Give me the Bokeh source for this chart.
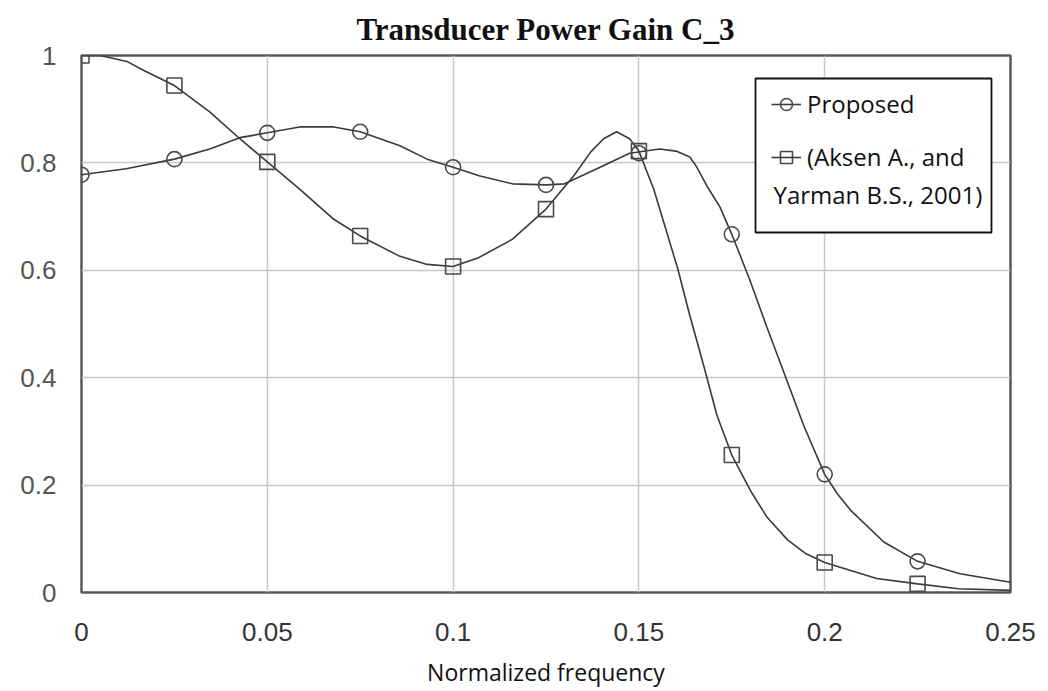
from bokeh.plotting import figure
from bokeh.models import Range1d, FixedTicker, Legend, LegendItem, Label, BoxAnnotation
from bokeh.embed import file_html
from bokeh.resources import INLINE

# ---------------- data ----------------
title_text = "Transducer Power Gain C_3"
x_label = "Normalized frequency"

x_ticks = [0, 0.05, 0.1, 0.15, 0.2, 0.25]
x_tick_labels = ["0", "0.05", "0.1", "0.15", "0.2", "0.25"]
y_ticks = [0, 0.2, 0.4, 0.6, 0.8, 1.0]
y_tick_labels = ["0", "0.2", "0.4", "0.6", "0.8", "1"]

series_names = ["Proposed", "(Aksen A., and", "Yarman B.S., 2001)"]

# "Proposed" curve
prop_x = [0.0, 0.012, 0.025, 0.0345, 0.0426, 0.05, 0.0587, 0.0679, 0.075, 0.0857,
          0.093, 0.1, 0.107, 0.116, 0.125, 0.130, 0.1387, 0.1475, 0.1556, 0.160,
          0.1637, 0.1655, 0.1683, 0.1718, 0.175, 0.1798, 0.1844, 0.189, 0.1944, 0.2,
          0.2035, 0.207, 0.2159, 0.225, 0.2364, 0.25]
prop_y = [0.778, 0.789, 0.807, 0.826, 0.847, 0.856, 0.867, 0.867, 0.858, 0.832,
          0.807, 0.792, 0.776, 0.761, 0.759, 0.761, 0.789, 0.818, 0.826, 0.822,
          0.811, 0.793, 0.757, 0.718, 0.667, 0.583, 0.495, 0.41, 0.31, 0.22,
          0.183, 0.153, 0.094, 0.058, 0.035, 0.019]

# "(Aksen A., and Yarman B.S., 2001)" curve
aksen_x = [0.0, 0.005, 0.0122, 0.0168, 0.025, 0.0345, 0.0426, 0.05, 0.0587, 0.0679,
           0.075, 0.0857, 0.093, 0.1, 0.107, 0.116, 0.125, 0.1325, 0.137, 0.1405,
           0.144, 0.1475, 0.150, 0.154, 0.1605, 0.1635, 0.1675, 0.171, 0.175, 0.18,
           0.1845, 0.19, 0.195, 0.2, 0.214, 0.225, 0.236, 0.25]
aksen_y = [1.0, 1.0, 0.989, 0.972, 0.944, 0.895, 0.845, 0.802, 0.751, 0.695,
           0.664, 0.626, 0.611, 0.607, 0.624, 0.658, 0.714, 0.776, 0.82, 0.845,
           0.858, 0.845, 0.822, 0.751, 0.602, 0.521, 0.421, 0.33, 0.256, 0.19,
           0.14, 0.098, 0.072, 0.056, 0.026, 0.016, 0.007, 0.004]

# marker positions
marker_x = [0.0, 0.025, 0.05, 0.075, 0.1, 0.125, 0.15, 0.175, 0.2, 0.225]
prop_markers = [0.778, 0.807, 0.856, 0.858, 0.792, 0.759, 0.818, 0.667, 0.22, 0.058]
aksen_markers = [1.0, 0.944, 0.802, 0.664, 0.607, 0.714, 0.822, 0.256, 0.056, 0.016]

# ---------------- figure ----------------
p = figure(width=1040, height=691,
           x_range=Range1d(0, 0.25), y_range=Range1d(0, 1.0),
           output_backend="svg", toolbar_location=None,
           min_border_left=81, min_border_right=30,
           min_border_top=55, min_border_bottom=99)
p.background_fill_color = "white"
p.border_fill_color = "white"
p.outline_line_color = "#5a5a5a"
p.outline_line_width = 2.5

p.title.text = title_text
p.title.align = "center"
p.title.text_font = "Liberation Serif"
p.title.text_font_style = "bold"
p.title.text_font_size = "31px"
p.title.text_color = "#111111"
p.title.standoff = 17

# axes
p.xaxis.ticker = FixedTicker(ticks=x_ticks)
p.xaxis.major_label_overrides = dict(zip(x_ticks, x_tick_labels))
p.yaxis.ticker = FixedTicker(ticks=y_ticks)
p.yaxis.major_label_overrides = dict(zip(y_ticks, y_tick_labels))
for ax in (p.xaxis, p.yaxis):
    ax.axis_line_color = None
    ax.major_tick_line_color = None
    ax.minor_tick_line_color = None

p.xaxis.major_label_text_font = "Liberation Sans"
p.xaxis.major_label_text_font_size = "26px"
p.xaxis.major_label_text_color = "#333333"
p.xaxis.major_label_standoff = 24
p.xaxis.axis_label = x_label
p.xaxis.axis_label_text_font = "Open Sans"
p.xaxis.axis_label_text_font_style = "normal"
p.xaxis.axis_label_text_font_size = "23px"
p.xaxis.axis_label_text_color = "#111111"
p.xaxis.axis_label_standoff = 12

p.yaxis.major_label_text_font = "Liberation Sans"
p.yaxis.major_label_text_font_size = "26px"
p.yaxis.major_label_text_color = "#555555"
p.yaxis.major_label_standoff = 19

# grid
p.xgrid.ticker = FixedTicker(ticks=x_ticks)
p.ygrid.ticker = FixedTicker(ticks=y_ticks)
p.grid.grid_line_color = "#c8c8c8"
p.grid.grid_line_width = 1.5

# curves
line_col = "#3a3a3a"
mk_col = "#4a4a4a"
l1 = p.line(prop_x, prop_y, line_color=line_col, line_width=1.6)
s1 = p.scatter(marker_x, prop_markers, marker="circle", size=15,
               fill_color=None, line_color=mk_col, line_width=1.6)
l2 = p.line(aksen_x, aksen_y, line_color=line_col, line_width=1.6)
s2 = p.scatter(marker_x, aksen_markers, marker="square", size=15,
               fill_color=None, line_color=mk_col, line_width=1.6)

# legend box
box = BoxAnnotation(left=674, right=910, bottom=360, top=514,
                    left_units="screen", right_units="screen",
                    bottom_units="screen", top_units="screen",
                    fill_color="white", fill_alpha=1.0,
                    line_color="#111111", line_width=1.8, line_alpha=1.0)
p.add_layout(box)

legend = Legend(items=[LegendItem(label=series_names[0], renderers=[l1, s1]),
                       LegendItem(label=series_names[1], renderers=[l2, s2])],
                location=(690, 419), orientation="vertical",
                glyph_width=30, glyph_height=30, label_height=30,
                spacing=20, padding=0, margin=0, label_standoff=6,
                label_text_font="Open Sans", label_text_font_size="24px",
                label_text_color="#111111",
                background_fill_alpha=0.0, border_line_alpha=0.0)
p.add_layout(legend)

p.add_layout(Label(x=692, y=398, x_units="screen", y_units="screen",
                   text=series_names[2], text_baseline="middle",
                   text_font="Open Sans", text_font_size="24px",
                   text_color="#111111"))

open("out.html", "w").write(file_html(p, INLINE))
